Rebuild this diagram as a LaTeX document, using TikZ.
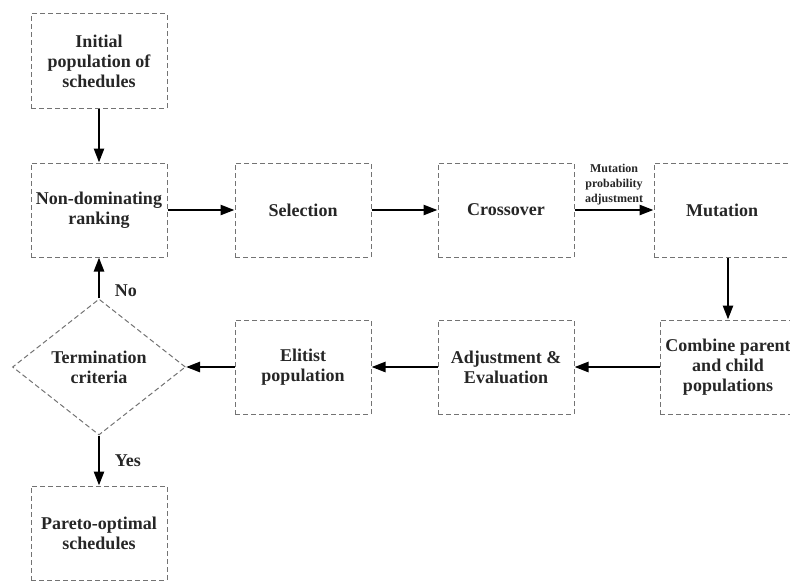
\documentclass[tikz,border=0pt]{standalone}
\usepackage{fontspec}
\setmainfont{Liberation Serif}
\usetikzlibrary{arrows.meta,shapes.geometric}

\begin{document}
\begin{tikzpicture}[x=0.5pt,y=0.5pt,
    stage/.style={draw=black!55, dash pattern=on 2.5pt off 1.5pt, line width=0.5pt,
        minimum width=68pt, minimum height=47pt, inner sep=1pt, align=center,
        font=\fontsize{9}{10}\selectfont\bfseries, text=black!85},
    decision/.style={stage, diamond, minimum width=86.5pt, minimum height=65pt},
    flow/.style={line width=1.25pt, -{Triangle[length=7pt,width=5pt]}},
    lbl/.style={font=\fontsize{9}{10}\selectfont\bfseries, text=black!85}]
\useasboundingbox[clip] (0,0) rectangle (790,580);

% first column
\node[stage] (init) at (99,519) {Initial\\population of\\schedules};
\node[stage] (rank) at (99,370) {Non-dominating\\ranking};
\node[decision] (term) at (99,213) {Termination\\criteria};
\node[stage] (pareto) at (99,47) {Pareto-optimal\\schedules};

% top row
\node[stage] (sel) at (303,370) {Selection};
\node[stage] (cross) at (506,370) {Crossover};
\node[stage] (mut) at (722,370) {Mutation};

% bottom row
\node[stage] (comb) at (728,213) {Combine parent\\and child\\populations};
\node[stage] (adj) at (506,213) {Adjustment \&\\Evaluation};
\node[stage] (elit) at (303,213) {Elitist\\population};

% connectors
\draw[flow] (init) -- (rank);
\draw[flow] (rank) -- (sel);
\draw[flow] (sel) -- (cross);
\draw[flow] (cross) -- node[midway, above, align=center, inner sep=2pt,
    font=\fontsize{6}{7.5}\selectfont\bfseries, text=black!85]
    {Mutation\\probability\\adjustment} (mut);
\draw[flow] (comb.north |- mut.south) -- (comb.north);
\draw[flow] (comb) -- (adj);
\draw[flow] (adj) -- (elit);
\draw[flow] (elit) -- (term);
\draw[flow] (term) -- node[lbl, right, pos=0.2, xshift=4pt] {No} (rank);
\draw[flow] (term) -- node[lbl, right, midway, xshift=4pt] {Yes} (pareto);
\end{tikzpicture}
\end{document}
